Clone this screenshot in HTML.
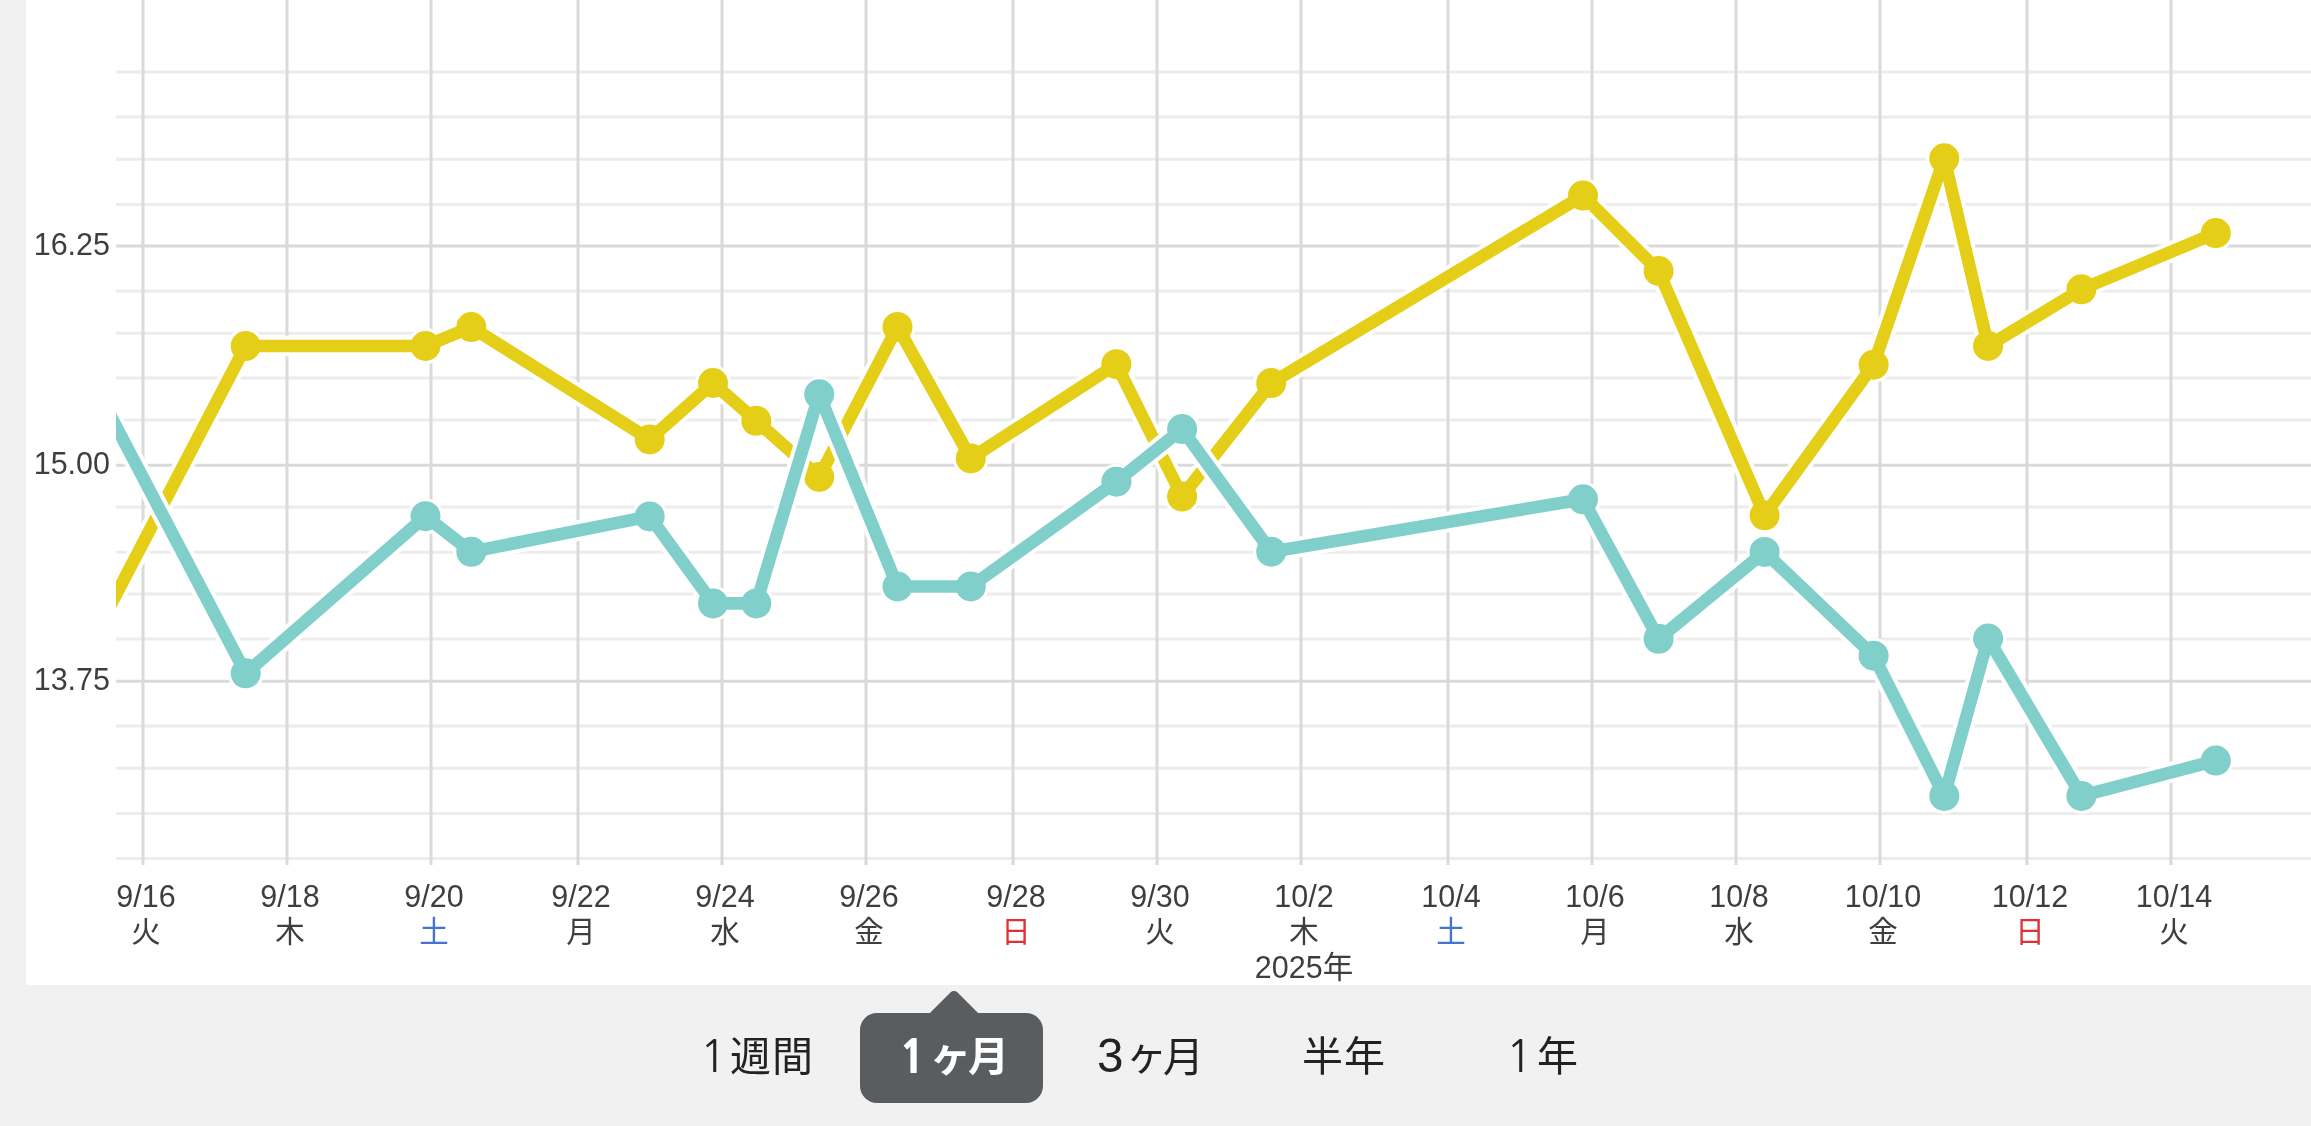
<!DOCTYPE html>
<html lang="ja"><head><meta charset="utf-8"><title>chart</title>
<style>
html,body{margin:0;padding:0}
body{width:2311px;height:1126px;background:#f1f1f1;position:relative;overflow:hidden;font-family:"Liberation Sans","Noto Sans CJK JP",sans-serif}
.panel{position:absolute;left:26px;top:0;width:2285px;height:985px;background:#fff}
.chart{position:absolute;left:0;top:0;will-change:transform}
.yl{font-size:30.5px;fill:#3e3e3e}
.xl{font-size:30.5px;fill:#3e3e3e}
.xw{font-size:29.5px;fill:#3e3e3e;font-family:"Noto Sans CJK JP",sans-serif}
.xw.sat{fill:#4674cc}
.xw.sun{fill:#df3036}
.tabbox{position:absolute;left:860px;top:1013px;width:183px;height:90px;background:#595d60;border-radius:17px}
.tri{position:absolute;left:931.9px;top:998.1px;width:44px;height:44px;background:#595d60;transform:rotate(45deg);border-radius:5px}
.g{position:absolute;line-height:1;white-space:nowrap;will-change:transform}
</style></head>
<body>
<div class="panel"></div>
<svg class="chart" width="2311" height="985" viewBox="0 0 2311 985">
<defs><clipPath id="pc"><rect x="116" y="0" width="2195" height="985"/></clipPath></defs>
<g stroke-width="3" fill="none">
<line x1="116" x2="2311" y1="72.1" y2="72.1" stroke="#ececec"/>
<line x1="116" x2="2311" y1="117.1" y2="117.1" stroke="#ececec"/>
<line x1="116" x2="2311" y1="159.3" y2="159.3" stroke="#ececec"/>
<line x1="116" x2="2311" y1="204.4" y2="204.4" stroke="#ececec"/>
<line x1="116" x2="2311" y1="290.9" y2="290.9" stroke="#ececec"/>
<line x1="116" x2="2311" y1="333.3" y2="333.3" stroke="#ececec"/>
<line x1="116" x2="2311" y1="378.1" y2="378.1" stroke="#ececec"/>
<line x1="116" x2="2311" y1="420.1" y2="420.1" stroke="#ececec"/>
<line x1="116" x2="2311" y1="507" y2="507" stroke="#ececec"/>
<line x1="116" x2="2311" y1="552.3" y2="552.3" stroke="#ececec"/>
<line x1="116" x2="2311" y1="594.1" y2="594.1" stroke="#ececec"/>
<line x1="116" x2="2311" y1="639" y2="639" stroke="#ececec"/>
<line x1="116" x2="2311" y1="725.9" y2="725.9" stroke="#ececec"/>
<line x1="116" x2="2311" y1="768.3" y2="768.3" stroke="#ececec"/>
<line x1="116" x2="2311" y1="813.4" y2="813.4" stroke="#ececec"/>
<line x1="116" x2="2311" y1="858.4" y2="858.4" stroke="#ececec"/>
<line x1="116" x2="2311" y1="246" y2="246" stroke="#dadada"/>
<line x1="116" x2="2311" y1="465.2" y2="465.2" stroke="#dadada"/>
<line x1="116" x2="2311" y1="681.2" y2="681.2" stroke="#dadada"/>
<line x1="143" x2="143" y1="0" y2="865" stroke="#dadada"/>
<line x1="287" x2="287" y1="0" y2="865" stroke="#dadada"/>
<line x1="431" x2="431" y1="0" y2="865" stroke="#dadada"/>
<line x1="578" x2="578" y1="0" y2="865" stroke="#dadada"/>
<line x1="722" x2="722" y1="0" y2="865" stroke="#dadada"/>
<line x1="866" x2="866" y1="0" y2="865" stroke="#dadada"/>
<line x1="1013" x2="1013" y1="0" y2="865" stroke="#dadada"/>
<line x1="1157" x2="1157" y1="0" y2="865" stroke="#dadada"/>
<line x1="1301" x2="1301" y1="0" y2="865" stroke="#dadada"/>
<line x1="1448" x2="1448" y1="0" y2="865" stroke="#dadada"/>
<line x1="1592" x2="1592" y1="0" y2="865" stroke="#dadada"/>
<line x1="1736" x2="1736" y1="0" y2="865" stroke="#dadada"/>
<line x1="1880" x2="1880" y1="0" y2="865" stroke="#dadada"/>
<line x1="2027" x2="2027" y1="0" y2="865" stroke="#dadada"/>
<line x1="2171" x2="2171" y1="0" y2="865" stroke="#dadada"/>
</g>
<text class="yl" x="110" y="255.1" text-anchor="end">16.25</text>
<text class="yl" x="110" y="474.3" text-anchor="end">15.00</text>
<text class="yl" x="110" y="690.3" text-anchor="end">13.75</text>
<text class="xl" x="146" y="906.5" text-anchor="middle">9/16</text>
<text class="xw" x="146" y="941.5" text-anchor="middle">火</text>
<text class="xl" x="290" y="906.5" text-anchor="middle">9/18</text>
<text class="xw" x="290" y="941.5" text-anchor="middle">木</text>
<text class="xl" x="434" y="906.5" text-anchor="middle">9/20</text>
<text class="xw sat" x="434" y="941.5" text-anchor="middle">土</text>
<text class="xl" x="581" y="906.5" text-anchor="middle">9/22</text>
<text class="xw" x="581" y="941.5" text-anchor="middle">月</text>
<text class="xl" x="725" y="906.5" text-anchor="middle">9/24</text>
<text class="xw" x="725" y="941.5" text-anchor="middle">水</text>
<text class="xl" x="869" y="906.5" text-anchor="middle">9/26</text>
<text class="xw" x="869" y="941.5" text-anchor="middle">金</text>
<text class="xl" x="1016" y="906.5" text-anchor="middle">9/28</text>
<text class="xw sun" x="1016" y="941.5" text-anchor="middle">日</text>
<text class="xl" x="1160" y="906.5" text-anchor="middle">9/30</text>
<text class="xw" x="1160" y="941.5" text-anchor="middle">火</text>
<text class="xl" x="1304" y="906.5" text-anchor="middle">10/2</text>
<text class="xw" x="1304" y="941.5" text-anchor="middle">木</text>
<text class="xl" x="1451" y="906.5" text-anchor="middle">10/4</text>
<text class="xw sat" x="1451" y="941.5" text-anchor="middle">土</text>
<text class="xl" x="1595" y="906.5" text-anchor="middle">10/6</text>
<text class="xw" x="1595" y="941.5" text-anchor="middle">月</text>
<text class="xl" x="1739" y="906.5" text-anchor="middle">10/8</text>
<text class="xw" x="1739" y="941.5" text-anchor="middle">水</text>
<text class="xl" x="1883" y="906.5" text-anchor="middle">10/10</text>
<text class="xw" x="1883" y="941.5" text-anchor="middle">金</text>
<text class="xl" x="2030" y="906.5" text-anchor="middle">10/12</text>
<text class="xw sun" x="2030" y="941.5" text-anchor="middle">日</text>
<text class="xl" x="2174" y="906.5" text-anchor="middle">10/14</text>
<text class="xw" x="2174" y="941.5" text-anchor="middle">火</text>
<text class="xl" x="1304" y="978" text-anchor="middle">2025年</text>
<g clip-path="url(#pc)">
<path d="M60,702.1 L245.7,346 L425.5,346 L471.3,327.1 L649.7,439.4 L713,383 L756.3,420.8 L819.2,476.9 L897.5,326.9 L970.8,458.4 L1116.4,364.2 L1182.1,496.5 L1271.2,383.1 L1583,195.6 L1658.6,271 L1764.6,515.3 L1873.6,364.7 L1944.3,158.3 L1988.1,345.9 L2081.4,289.3 L2215.8,233.1" fill="none" stroke="#fff" stroke-width="20.5" stroke-linejoin="round" stroke-linecap="round"/>
<circle cx="245.7" cy="346" r="18" fill="#fff"/>
<circle cx="425.5" cy="346" r="18" fill="#fff"/>
<circle cx="471.3" cy="327.1" r="18" fill="#fff"/>
<circle cx="649.7" cy="439.4" r="18" fill="#fff"/>
<circle cx="713" cy="383" r="18" fill="#fff"/>
<circle cx="756.3" cy="420.8" r="18" fill="#fff"/>
<circle cx="819.2" cy="476.9" r="18" fill="#fff"/>
<circle cx="897.5" cy="326.9" r="18" fill="#fff"/>
<circle cx="970.8" cy="458.4" r="18" fill="#fff"/>
<circle cx="1116.4" cy="364.2" r="18" fill="#fff"/>
<circle cx="1182.1" cy="496.5" r="18" fill="#fff"/>
<circle cx="1271.2" cy="383.1" r="18" fill="#fff"/>
<circle cx="1583" cy="195.6" r="18" fill="#fff"/>
<circle cx="1658.6" cy="271" r="18" fill="#fff"/>
<circle cx="1764.6" cy="515.3" r="18" fill="#fff"/>
<circle cx="1873.6" cy="364.7" r="18" fill="#fff"/>
<circle cx="1944.3" cy="158.3" r="18" fill="#fff"/>
<circle cx="1988.1" cy="345.9" r="18" fill="#fff"/>
<circle cx="2081.4" cy="289.3" r="18" fill="#fff"/>
<circle cx="2215.8" cy="233.1" r="18" fill="#fff"/>
<path d="M60,702.1 L245.7,346 L425.5,346 L471.3,327.1 L649.7,439.4 L713,383 L756.3,420.8 L819.2,476.9 L897.5,326.9 L970.8,458.4 L1116.4,364.2 L1182.1,496.5 L1271.2,383.1 L1583,195.6 L1658.6,271 L1764.6,515.3 L1873.6,364.7 L1944.3,158.3 L1988.1,345.9 L2081.4,289.3 L2215.8,233.1" fill="none" stroke="#e5ce17" stroke-width="12.6" stroke-linejoin="round" stroke-linecap="round"/>
<circle cx="245.7" cy="346" r="15" fill="#e5ce17"/>
<circle cx="425.5" cy="346" r="15" fill="#e5ce17"/>
<circle cx="471.3" cy="327.1" r="15" fill="#e5ce17"/>
<circle cx="649.7" cy="439.4" r="15" fill="#e5ce17"/>
<circle cx="713" cy="383" r="15" fill="#e5ce17"/>
<circle cx="756.3" cy="420.8" r="15" fill="#e5ce17"/>
<circle cx="819.2" cy="476.9" r="15" fill="#e5ce17"/>
<circle cx="897.5" cy="326.9" r="15" fill="#e5ce17"/>
<circle cx="970.8" cy="458.4" r="15" fill="#e5ce17"/>
<circle cx="1116.4" cy="364.2" r="15" fill="#e5ce17"/>
<circle cx="1182.1" cy="496.5" r="15" fill="#e5ce17"/>
<circle cx="1271.2" cy="383.1" r="15" fill="#e5ce17"/>
<circle cx="1583" cy="195.6" r="15" fill="#e5ce17"/>
<circle cx="1658.6" cy="271" r="15" fill="#e5ce17"/>
<circle cx="1764.6" cy="515.3" r="15" fill="#e5ce17"/>
<circle cx="1873.6" cy="364.7" r="15" fill="#e5ce17"/>
<circle cx="1944.3" cy="158.3" r="15" fill="#e5ce17"/>
<circle cx="1988.1" cy="345.9" r="15" fill="#e5ce17"/>
<circle cx="2081.4" cy="289.3" r="15" fill="#e5ce17"/>
<circle cx="2215.8" cy="233.1" r="15" fill="#e5ce17"/>
</g>
<g clip-path="url(#pc)">
<path d="M60,319.5 L245.7,673.3 L425.5,516.2 L471.3,551.8 L649.7,516.4 L713,603.4 L756.3,603.4 L819.2,394.3 L897.5,586.5 L970.8,586.5 L1116.4,481.7 L1182.1,429.1 L1271.2,551.7 L1583,499.3 L1658.6,638.8 L1764.6,551.9 L1873.6,655.7 L1944.3,795.9 L1988.1,638.5 L2081.4,795.9 L2215.8,760.6" fill="none" stroke="#fff" stroke-width="20.5" stroke-linejoin="round" stroke-linecap="round"/>
<circle cx="245.7" cy="673.3" r="18" fill="#fff"/>
<circle cx="425.5" cy="516.2" r="18" fill="#fff"/>
<circle cx="471.3" cy="551.8" r="18" fill="#fff"/>
<circle cx="649.7" cy="516.4" r="18" fill="#fff"/>
<circle cx="713" cy="603.4" r="18" fill="#fff"/>
<circle cx="756.3" cy="603.4" r="18" fill="#fff"/>
<circle cx="819.2" cy="394.3" r="18" fill="#fff"/>
<circle cx="897.5" cy="586.5" r="18" fill="#fff"/>
<circle cx="970.8" cy="586.5" r="18" fill="#fff"/>
<circle cx="1116.4" cy="481.7" r="18" fill="#fff"/>
<circle cx="1182.1" cy="429.1" r="18" fill="#fff"/>
<circle cx="1271.2" cy="551.7" r="18" fill="#fff"/>
<circle cx="1583" cy="499.3" r="18" fill="#fff"/>
<circle cx="1658.6" cy="638.8" r="18" fill="#fff"/>
<circle cx="1764.6" cy="551.9" r="18" fill="#fff"/>
<circle cx="1873.6" cy="655.7" r="18" fill="#fff"/>
<circle cx="1944.3" cy="795.9" r="18" fill="#fff"/>
<circle cx="1988.1" cy="638.5" r="18" fill="#fff"/>
<circle cx="2081.4" cy="795.9" r="18" fill="#fff"/>
<circle cx="2215.8" cy="760.6" r="18" fill="#fff"/>
<path d="M60,319.5 L245.7,673.3 L425.5,516.2 L471.3,551.8 L649.7,516.4 L713,603.4 L756.3,603.4 L819.2,394.3 L897.5,586.5 L970.8,586.5 L1116.4,481.7 L1182.1,429.1 L1271.2,551.7 L1583,499.3 L1658.6,638.8 L1764.6,551.9 L1873.6,655.7 L1944.3,795.9 L1988.1,638.5 L2081.4,795.9 L2215.8,760.6" fill="none" stroke="#80cfca" stroke-width="12.6" stroke-linejoin="round" stroke-linecap="round"/>
<circle cx="245.7" cy="673.3" r="15" fill="#80cfca"/>
<circle cx="425.5" cy="516.2" r="15" fill="#80cfca"/>
<circle cx="471.3" cy="551.8" r="15" fill="#80cfca"/>
<circle cx="649.7" cy="516.4" r="15" fill="#80cfca"/>
<circle cx="713" cy="603.4" r="15" fill="#80cfca"/>
<circle cx="756.3" cy="603.4" r="15" fill="#80cfca"/>
<circle cx="819.2" cy="394.3" r="15" fill="#80cfca"/>
<circle cx="897.5" cy="586.5" r="15" fill="#80cfca"/>
<circle cx="970.8" cy="586.5" r="15" fill="#80cfca"/>
<circle cx="1116.4" cy="481.7" r="15" fill="#80cfca"/>
<circle cx="1182.1" cy="429.1" r="15" fill="#80cfca"/>
<circle cx="1271.2" cy="551.7" r="15" fill="#80cfca"/>
<circle cx="1583" cy="499.3" r="15" fill="#80cfca"/>
<circle cx="1658.6" cy="638.8" r="15" fill="#80cfca"/>
<circle cx="1764.6" cy="551.9" r="15" fill="#80cfca"/>
<circle cx="1873.6" cy="655.7" r="15" fill="#80cfca"/>
<circle cx="1944.3" cy="795.9" r="15" fill="#80cfca"/>
<circle cx="1988.1" cy="638.5" r="15" fill="#80cfca"/>
<circle cx="2081.4" cy="795.9" r="15" fill="#80cfca"/>
<circle cx="2215.8" cy="760.6" r="15" fill="#80cfca"/>
</g>
</svg>
<div class="tabbox"></div>
<div class="tri"></div>
<span class="g" style="left:699.6px;top:1034.2px;font-family:'NanumGothic',sans-serif;font-size:44px;font-weight:400;color:#222">1</span>
<span class="g" style="left:730.4px;top:1033.4px;font-family:'Noto Sans CJK JP',sans-serif;font-size:41px;font-weight:400;color:#222">週</span>
<span class="g" style="left:771.8px;top:1033.0px;font-family:'Noto Sans CJK JP',sans-serif;font-size:41px;font-weight:400;color:#222">間</span>
<span class="g" style="left:899.3px;top:1034.2px;font-family:'NanumGothic',sans-serif;font-size:45px;font-weight:800;color:#fff">1</span>
<span class="g" style="left:930.0px;top:1032.5px;font-family:'Noto Sans CJK JP',sans-serif;font-size:41px;font-weight:700;color:#fff">ヶ</span>
<span class="g" style="left:968.3px;top:1033.2px;font-family:'Noto Sans CJK JP',sans-serif;font-size:41px;font-weight:700;color:#fff">月</span>
<span class="g" style="left:1096.6px;top:1032.4px;font-family:'Liberation Sans',sans-serif;font-size:47.5px;font-weight:400;color:#222">3</span>
<span class="g" style="left:1125.7px;top:1032.2px;font-family:'Noto Sans CJK JP',sans-serif;font-size:41px;font-weight:400;color:#222">ヶ</span>
<span class="g" style="left:1162.7px;top:1033.6px;font-family:'Noto Sans CJK JP',sans-serif;font-size:41px;font-weight:400;color:#222">月</span>
<span class="g" style="left:1302.4px;top:1033.3px;font-family:'Noto Sans CJK JP',sans-serif;font-size:41px;font-weight:400;color:#222">半</span>
<span class="g" style="left:1344.2px;top:1033.2px;font-family:'Noto Sans CJK JP',sans-serif;font-size:41px;font-weight:400;color:#222">年</span>
<span class="g" style="left:1505.8px;top:1034.2px;font-family:'NanumGothic',sans-serif;font-size:44px;font-weight:400;color:#222">1</span>
<span class="g" style="left:1537.2px;top:1033.1px;font-family:'Noto Sans CJK JP',sans-serif;font-size:41px;font-weight:400;color:#222">年</span>
</body></html>
